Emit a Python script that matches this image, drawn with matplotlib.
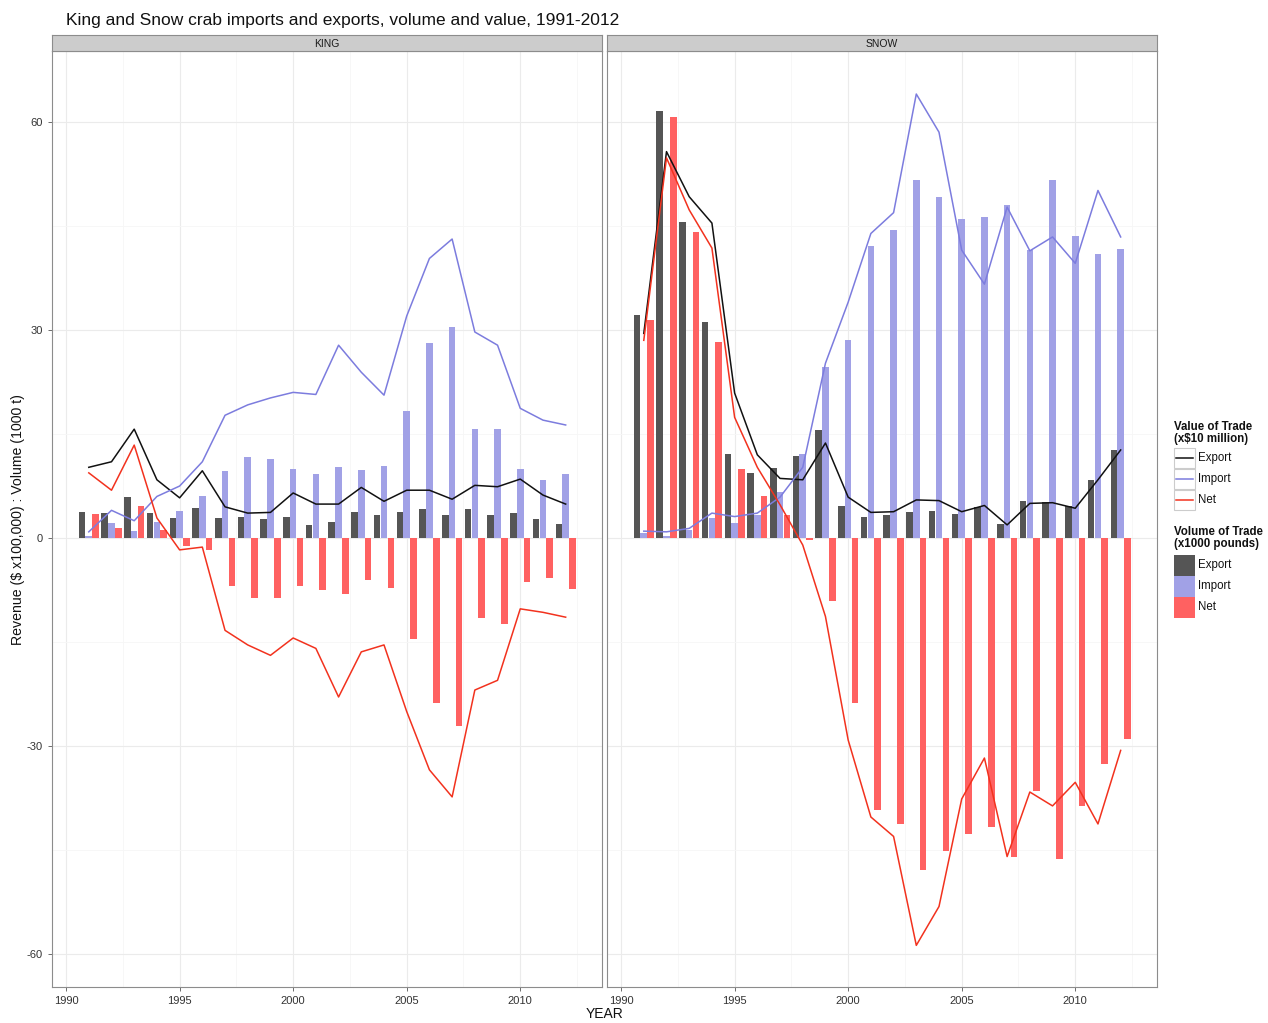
import numpy as np
import matplotlib
matplotlib.use("Agg")
import matplotlib.pyplot as plt
from matplotlib.patches import Rectangle
from matplotlib.lines import Line2D

years = np.arange(1991, 2013)

# KING — volume of trade (bars, x1000 pounds)
king_export_vol = [3.7, 3.6, 5.9, 3.6, 2.9, 4.4, 2.9, 3.1, 2.8, 3.1, 1.9,
                   2.3, 3.8, 3.3, 3.8, 4.2, 3.3, 4.2, 3.3, 3.6, 2.7, 2.0]
king_import_vol = [0.3, 2.2, 1.0, 2.3, 3.9, 6.0, 9.7, 11.7, 11.4, 9.9, 9.2,
                   10.3, 9.8, 10.4, 18.3, 28.1, 30.4, 15.7, 15.7, 9.9, 8.4, 9.2]
king_net_vol = [3.4, 1.4, 4.6, 1.2, -1.2, -1.7, -6.9, -8.6, -8.7, -6.9, -7.5,
                -8.0, -6.0, -7.2, -14.5, -23.8, -27.1, -11.5, -12.4, -6.4, -5.8, -7.3]
# KING — value of trade (lines, x$10 million)
king_export_val = [10.2, 11.0, 15.7, 8.4, 5.8, 9.7, 4.5, 3.6, 3.7, 6.5, 4.9,
                   4.9, 7.3, 5.3, 6.9, 6.9, 5.6, 7.6, 7.4, 8.5, 6.2, 4.9]
king_import_val = [0.9, 4.0, 2.5, 6.0, 7.5, 11.0, 17.7, 19.2, 20.2, 21.0, 20.7,
                   27.8, 23.9, 20.6, 32.0, 40.3, 43.1, 29.7, 27.8, 18.7, 17.0, 16.3]
king_net_val = [9.4, 6.9, 13.4, 2.9, -1.7, -1.3, -13.3, -15.4, -16.9, -14.4, -15.9,
                -22.9, -16.4, -15.4, -25.0, -33.4, -37.3, -21.9, -20.5, -10.2, -10.7, -11.4]

# SNOW — volume of trade
snow_export_vol = [32.1, 61.5, 45.5, 31.1, 12.1, 9.4, 10.1, 11.8, 15.6, 4.6, 3.0,
                   3.3, 3.8, 3.9, 3.4, 4.5, 2.1, 5.3, 5.2, 4.6, 8.4, 12.7]
snow_import_vol = [0.7, 0.3, 1.2, 2.9, 2.2, 3.3, 6.6, 12.1, 24.6, 28.5, 42.1,
                   44.4, 51.6, 49.1, 46.0, 46.3, 48.0, 41.5, 51.6, 43.5, 41.0, 41.6]
snow_net_vol = [31.4, 60.7, 44.1, 28.2, 9.9, 6.1, 3.3, -0.3, -9.0, -23.8, -39.2,
                -41.2, -47.8, -45.1, -42.7, -41.6, -46.0, -36.4, -46.3, -38.6, -32.6, -29.0]
# SNOW — value of trade
snow_export_val = [29.5, 55.7, 49.2, 45.4, 20.9, 12.0, 8.6, 8.4, 13.7, 5.9, 3.7,
                   3.8, 5.5, 5.4, 3.8, 4.7, 1.9, 5.0, 5.1, 4.3, 8.4, 12.7]
snow_import_val = [1.0, 0.9, 1.4, 3.6, 3.1, 3.6, 5.9, 10.2, 25.2, 34.0, 43.9,
                   46.9, 64.0, 58.5, 41.5, 36.6, 47.7, 41.4, 43.4, 39.6, 50.1, 43.4]
snow_net_val = [28.5, 54.8, 47.3, 41.8, 17.4, 10.2, 4.8, -1.0, -11.3, -29.1, -40.2,
                -43.0, -58.7, -53.1, -37.6, -31.7, -45.9, -36.6, -38.6, -35.2, -41.2, -30.6]

panels = ["KING", "SNOW"]
series = ["Export", "Import", "Net"]
y_ticks = [-60, -30, 0, 30, 60]
x_ticks = [1990, 1995, 2000, 2005, 2010]

title = "King and Snow crab imports and exports, volume and value, 1991-2012"
ylabel = "Revenue ($ x100,000) : Volume (1000 t)"
xlabel = "YEAR"

bar_colors = {"Export": "#555555", "Import": "#A1A1E6", "Net": "#FF6161"}
line_colors = {"Export": "#111111", "Import": "#7C7CDE", "Net": "#F2321E"}

W, H = 1268, 1023
fig = plt.figure(figsize=(W / 100, H / 100), dpi=100)
plt.rcParams['font.family'] = ['Liberation Sans', 'DejaVu Sans']


def fx(px):
    return px / W


def fy(py):
    return 1 - py / H


data = {
    "KING": ({"Export": king_export_vol, "Import": king_import_vol, "Net": king_net_vol},
             {"Export": king_export_val, "Import": king_import_val, "Net": king_net_val}),
    "SNOW": ({"Export": snow_export_vol, "Import": snow_import_vol, "Net": snow_net_vol},
             {"Export": snow_export_val, "Import": snow_import_val, "Net": snow_net_val}),
}

panel_left = [52, 607]
panel_w = 550
p_top, p_bot = 51, 987
strip_top = 35

offsets = {"Export": -0.3, "Import": 0.0, "Net": 0.3}

for i, name in enumerate(panels):
    L = panel_left[i]
    ax = fig.add_axes([fx(L), fy(p_bot), panel_w / W, (p_bot - p_top) / H])
    vol, val = data[name]
    for s in series:
        ax.bar(years + offsets[s], vol[s], width=0.29, color=bar_colors[s], zorder=2, linewidth=0)
    for s in series:
        ax.plot(years, val[s], color=line_colors[s], lw=1.1, zorder=3)
    ax.set_xlim(1989.38, 2013.6)
    ax.set_ylim(-64.7, 70.2)
    ax.set_yticks(y_ticks)
    ax.set_xticks(x_ticks)
    ax.set_yticks([-45, -15, 15, 45], minor=True)
    ax.set_xticks([1992.5, 1997.5, 2002.5, 2007.5, 2012.5], minor=True)
    ax.grid(True, which="major", color="#EBEBEB", lw=0.8, zorder=0)
    ax.grid(True, which="minor", color="#F6F6F6", lw=0.6, zorder=0)
    ax.set_axisbelow(True)
    for sp in ax.spines.values():
        sp.set_color("#8C8C8C")
        sp.set_linewidth(0.8)
    ax.tick_params(which="minor", length=0)
    ax.tick_params(which="major", length=3, color="#555555", labelsize=8, labelcolor="#333333", width=0.6)
    if i == 1:
        ax.set_yticklabels([])
        ax.tick_params(axis="y", length=0)
    else:
        ax.set_yticklabels([str(t) for t in y_ticks])
    # strip
    sax = fig.add_axes([fx(L), fy(p_top), panel_w / W, (p_top - strip_top) / H])
    sax.set_facecolor("#CCCCCC")
    sax.set_xticks([])
    sax.set_yticks([])
    for sp in sax.spines.values():
        sp.set_color("#8C8C8C")
        sp.set_linewidth(0.8)
    sax.text(0.5, 0.45, name, ha="center", va="center", fontsize=7.5, color="#1A1A1A",
             transform=sax.transAxes)

fig.text(fx(66), fy(20), title, ha="left", va="center", fontsize=12.5, color="#111111")
fig.text(fx(605), fy(1014), xlabel, ha="center", va="center", fontsize=10, color="#111111")
fig.text(fx(18), fy(520), ylabel, ha="center", va="center", rotation=90, fontsize=10.2, color="#111111")

# Legends (drawn in figure pixel coordinates)
fig.text(fx(1174), fy(433), "Value of Trade\n(x$10 million)", ha="left", va="center",
         fontsize=8.3, fontweight="bold", linespacing=1.0, color="#111111")
for k, s in enumerate(series):
    cy = 458 + k * 21
    fig.add_artist(Rectangle((fx(1174), fy(cy + 10)), 21 / W, 20 / H, transform=fig.transFigure,
                             facecolor="white", edgecolor="#CCCCCC", lw=0.8))
    fig.add_artist(Line2D([fx(1176), fx(1193)], [fy(cy), fy(cy)], transform=fig.transFigure,
                          color=line_colors[s], lw=1.1))
    fig.text(fx(1198), fy(cy), s, ha="left", va="center", fontsize=8.3, color="#111111")

fig.text(fx(1174), fy(538), "Volume of Trade\n(x1000 pounds)", ha="left", va="center",
         fontsize=8.3, fontweight="bold", linespacing=1.0, color="#111111")
for k, s in enumerate(series):
    cy = 565 + k * 21
    fig.add_artist(Rectangle((fx(1174), fy(cy + 10.5)), 21 / W, 21 / H, transform=fig.transFigure,
                             facecolor=bar_colors[s], edgecolor="none"))
    fig.text(fx(1198), fy(cy), s, ha="left", va="center", fontsize=8.3, color="#111111")

fig.savefig("out.png", dpi=100, facecolor="white")
